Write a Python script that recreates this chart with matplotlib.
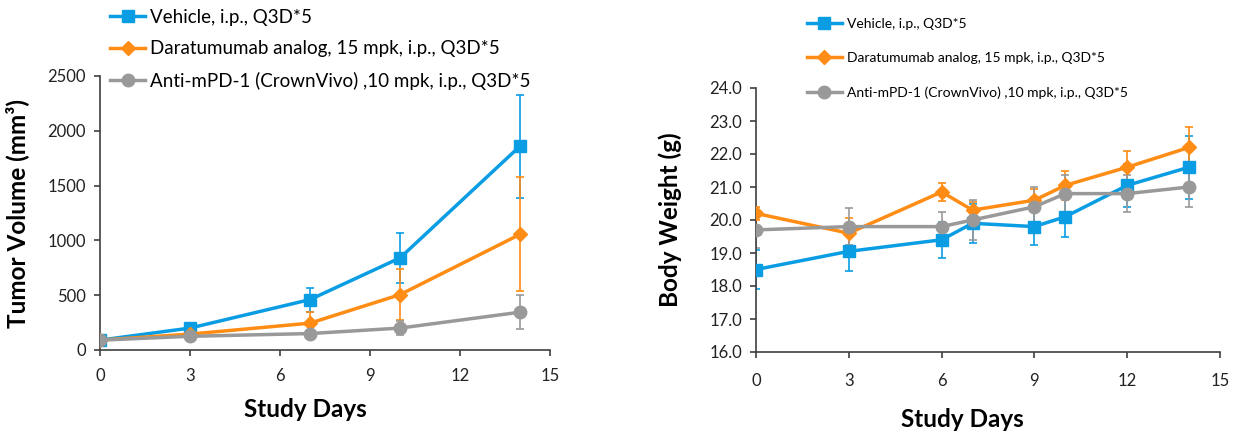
import matplotlib.pyplot as plt

# tumour volume
days_tv = [0, 3, 7, 10, 14]
veh_tv = [90, 200, 460, 840, 1860]
veh_tv_err = [15, 30, 110, 230, 470]
dara_tv = [90, 145, 245, 505, 1055]
dara_tv_err = [10, 20, 105, 235, 520]
pd1_tv = [90, 125, 150, 200, 345]
pd1_tv_err = [10, 15, 20, 65, 155]

# body weight
days_bw = [0, 3, 6, 7, 9, 10, 12, 14]
veh_bw = [18.5, 19.05, 19.4, 19.9, 19.8, 20.1, 21.05, 21.6]
veh_bw_err = [0.6, 0.6, 0.55, 0.6, 0.55, 0.6, 0.65, 0.95]
dara_bw = [20.2, 19.6, 20.85, 20.3, 20.6, 21.05, 21.6, 22.2]
dara_bw_err = [0.2, 0.45, 0.27, 0.25, 0.35, 0.45, 0.5, 0.62]
pd1_bw = [19.7, 19.8, 19.8, 20.0, 20.4, 20.8, 20.8, 21.0]
pd1_bw_err = [0.55, 0.57, 0.45, 0.6, 0.6, 0.55, 0.55, 0.6]

labels = ["Vehicle, i.p., Q3D*5",
          "Daratumumab analog, 15 mpk, i.p., Q3D*5",
          "Anti-mPD-1 (CrownVivo) ,10 mpk, i.p., Q3D*5"]
colors = ["#0a9de3", "#ff8c14", "#999999"]
markers = ["s", "D", "o"]
msizes = [9, 7, 9]

plt.rcParams['font.family'] = ['Lato', 'DejaVu Sans']
axcol = "#404040"

fig = plt.figure(figsize=(12.38, 4.32), dpi=100)
W, H = 1238, 432
ax1 = fig.add_axes([100 / W, 1 - 350 / H, (550 - 100) / W, (350 - 76) / H])
ax2 = fig.add_axes([756 / W, 1 - 352 / H, (1220 - 756) / W, (352 - 88) / H])


def draw(ax, x, series, errs, xpad):
    hs = []
    for y, e, c, m, ms, lab in zip(series, errs, colors, markers, msizes, labels):
        ax.errorbar(x, y, yerr=e, fmt="none", ecolor=c, elinewidth=1.2,
                    capsize=3, capthick=1.2, zorder=2)
        h, = ax.plot(x, y, color=c, marker=m, markersize=ms, linewidth=2.5,
                     label=lab, zorder=3)
        hs.append(h)
    for s in ["top", "right"]:
        ax.spines[s].set_visible(False)
    for s in ["left", "bottom"]:
        ax.spines[s].set_color(axcol)
        ax.spines[s].set_linewidth(1.2)
    ax.tick_params(direction="out", length=4, width=1.2, color=axcol,
                   labelsize=12, labelcolor="#222222", pad=6)
    ax.tick_params(axis="x", pad=xpad)
    ax.set_xlim(0, 15)
    ax.set_xticks([0, 3, 6, 9, 12, 15])
    return hs


hs1 = draw(ax1, days_tv, [veh_tv, dara_tv, pd1_tv],
           [veh_tv_err, dara_tv_err, pd1_tv_err], 9)
ax1.set_ylim(0, 2500)
ax1.set_yticks(range(0, 2501, 500))
ax1.set_xlabel("Study Days", fontsize=17.5, fontweight="bold", labelpad=10)
ax1.xaxis.label.set_x(0.456)
ax1.set_ylabel("Tumor Volume (mm³)", fontsize=17.5, fontweight="bold", labelpad=13)
ax1.legend(handles=hs1, loc="upper left", bbox_to_anchor=(110 / W, 1 - 9 / H),
           bbox_transform=fig.transFigure, frameon=False, fontsize=13.5,
           handlelength=1.87, handletextpad=0.27, labelspacing=0.77,
           borderaxespad=0, borderpad=0)

hs2 = draw(ax2, days_bw, [veh_bw, dara_bw, pd1_bw],
           [veh_bw_err, dara_bw_err, pd1_bw_err], 11)
ax2.set_ylim(16, 24)
ax2.set_yticks(range(16, 25))
ax2.yaxis.set_major_formatter(plt.FormatStrFormatter("%.1f"))
ax2.set_xlabel("Study Days", fontsize=17.5, fontweight="bold", labelpad=14)
ax2.xaxis.label.set_x(0.444)
ax2.set_ylabel("Body Weight (g)", fontsize=17.5, fontweight="bold", labelpad=20)
ax2.legend(handles=hs2, loc="upper left", bbox_to_anchor=(807 / W, 1 - 18 / H),
           bbox_transform=fig.transFigure, frameon=False, fontsize=10,
           handlelength=2.5, handletextpad=0.36, labelspacing=1.6,
           borderaxespad=0, borderpad=0)

fig.savefig("out.png", dpi=100)
